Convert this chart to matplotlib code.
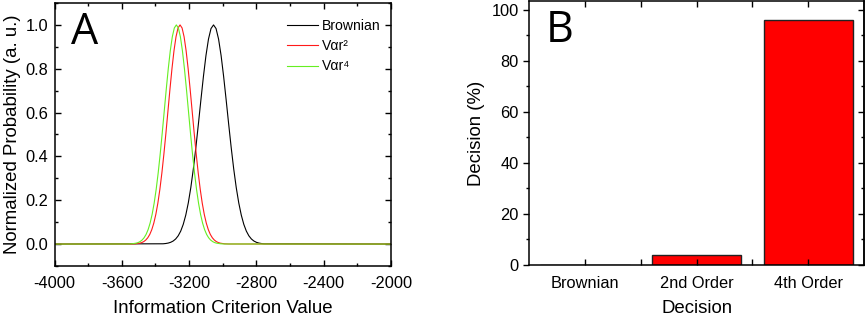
import matplotlib
matplotlib.use("Agg")
import matplotlib.pyplot as plt
from matplotlib.ticker import MultipleLocator, FixedLocator, FormatStrFormatter

plt.rcParams['font.family'] = ['Liberation Sans', 'DejaVu Sans']
plt.rcParams['axes.unicode_minus'] = False

# panel A: curves
brown_x = [-4000, -3355, -3340, -3325, -3310, -3295, -3280, -3265, -3250, -3235, -3220,
           -3205, -3190, -3175, -3160, -3145, -3130, -3115, -3100, -3085, -3070, -3055,
           -3040, -3025, -3010, -2995, -2980, -2965, -2950, -2935, -2920, -2905, -2890,
           -2875, -2860, -2845, -2830, -2815, -2800, -2785, -2770, -2755, -2000]
brown_y = [0, 0.0012, 0.0024, 0.0044, 0.0079, 0.0138, 0.0232, 0.0377, 0.0592, 0.0899, 0.1321,
           0.1877, 0.2579, 0.3428, 0.4405, 0.5475, 0.6582, 0.7651, 0.8602, 0.9353, 0.9834, 1.0,
           0.9834, 0.9353, 0.8602, 0.7651, 0.6582, 0.5475, 0.4405, 0.3428, 0.2579, 0.1877, 0.1321,
           0.0899, 0.0592, 0.0377, 0.0232, 0.0138, 0.0079, 0.0044, 0.0024, 0.0012, 0]

r2_x = [-4000, -3542, -3518, -3494, -3482, -3470, -3458, -3446, -3434, -3422, -3410, -3398,
        -3386, -3374, -3362, -3350, -3338, -3326, -3314, -3302, -3290, -3278, -3266, -3254,
        -3242, -3230, -3218, -3206, -3194, -3182, -3170, -3158, -3146, -3134, -3122, -3110,
        -3098, -3086, -3074, -3062, -3050, -3038, -3026, -3014, -2990, -2966, -2000]
r2_y = [0, 0.0003, 0.0012, 0.0039, 0.0066, 0.0111, 0.0181, 0.0286, 0.0439, 0.0657, 0.0956, 0.1353,
        0.1863, 0.2494, 0.3247, 0.4111, 0.5063, 0.6065, 0.7066, 0.8007, 0.8825, 0.9460, 0.9862, 1.0,
        0.9862, 0.9460, 0.8825, 0.8007, 0.7066, 0.6065, 0.5063, 0.4111, 0.3247, 0.2494, 0.1863, 0.1353,
        0.0956, 0.0657, 0.0439, 0.0286, 0.0181, 0.0111, 0.0066, 0.0039, 0.0012, 0.0003, 0]

r4_x = [-4000, -3564, -3540, -3516, -3504, -3492, -3480, -3468, -3456, -3444, -3432, -3420,
        -3408, -3396, -3384, -3372, -3360, -3348, -3336, -3324, -3312, -3300, -3288, -3276,
        -3264, -3252, -3240, -3228, -3216, -3204, -3192, -3180, -3168, -3156, -3144, -3132,
        -3120, -3108, -3096, -3084, -3072, -3060, -3048, -3036, -3012, -2988, -2000]
r4_y = [0, 0.0003, 0.0012, 0.0039, 0.0066, 0.0111, 0.0181, 0.0286, 0.0439, 0.0657, 0.0956, 0.1353,
        0.1863, 0.2494, 0.3247, 0.4111, 0.5063, 0.6065, 0.7066, 0.8007, 0.8825, 0.9460, 0.9862, 1.0,
        0.9862, 0.9460, 0.8825, 0.8007, 0.7066, 0.6065, 0.5063, 0.4111, 0.3247, 0.2494, 0.1863, 0.1353,
        0.0956, 0.0657, 0.0439, 0.0286, 0.0181, 0.0111, 0.0066, 0.0039, 0.0012, 0.0003, 0]

# panel B: decision percentages
decisions = ["Brownian", "2nd Order", "4th Order"]
decision_pct = [0, 4, 96]

TICK_FS = 11.8
LABEL_FS = 13.4

fig = plt.figure(figsize=(8.66, 3.17), dpi=100)

# ---- A ----
ax = fig.add_axes([0.063, 0.161, 0.3885, 0.8295])
ax.plot(brown_x, brown_y, color='black', lw=0.8, label='Brownian')
ax.plot(r2_x, r2_y, color='#ff1a1a', lw=0.8, label='V\u03b1r\u00b2')
ax.plot(r4_x, r4_y, color='#66ee22', lw=0.8, label='V\u03b1r\u2074')
ax.set_xlim(-4000, -2000)
ax.set_ylim(-0.1, 1.1)
ax.xaxis.set_major_locator(MultipleLocator(400))
ax.xaxis.set_minor_locator(MultipleLocator(200))
ax.yaxis.set_major_locator(MultipleLocator(0.2))
ax.yaxis.set_minor_locator(MultipleLocator(0.1))
ax.yaxis.set_major_formatter(FormatStrFormatter('%.1f'))
ax.tick_params(which='both', direction='in', top=True, right=True, labelsize=TICK_FS, width=1)
ax.tick_params(which='major', length=4.5)
ax.tick_params(which='minor', length=2.5)
ax.tick_params(axis='x', which='major', pad=7.5)
ax.tick_params(axis='y', which='major', pad=4.5)
for s in ax.spines.values():
    s.set_linewidth(1.1)
ax.set_xlabel('Information Criterion Value', fontsize=LABEL_FS, labelpad=6.5)
ax.set_ylabel('Normalized Probability (a. u.)', fontsize=LABEL_FS, labelpad=3)
ax.text(0.05, 0.97, 'A', transform=ax.transAxes, fontsize=31, va='top', ha='left',
        family='Open Sans')
ax.legend(loc='upper left', bbox_to_anchor=(0.69, 0.94), frameon=False,
          fontsize=10.1, handlelength=2.2, handletextpad=0.3, borderpad=0,
          labelspacing=0.45, borderaxespad=0)

# ---- B ----
bx = fig.add_axes([0.611, 0.164, 0.3867, 0.833])
pos = [1, 2, 3]
bx.bar(pos, decision_pct, width=0.8, color='#ff0000', edgecolor='#222222', lw=1)
bx.set_xlim(0.5, 3.5)
bx.set_ylim(0, 103.5)
bx.xaxis.set_major_locator(FixedLocator(pos))
bx.xaxis.set_minor_locator(FixedLocator([1.5, 2.5]))
bx.set_xticklabels(decisions)
bx.yaxis.set_major_locator(MultipleLocator(20))
bx.yaxis.set_minor_locator(MultipleLocator(10))
bx.tick_params(which='both', top=True, right=True, labelsize=TICK_FS, width=1)
bx.tick_params(axis='x', which='both', direction='in', length=4, pad=8)
bx.tick_params(axis='y', which='both', direction='out', left=True, right=False)
bx.tick_params(axis='y', which='major', length=4.5, pad=3)
bx.tick_params(axis='y', which='minor', length=2.5)
# right side ticks point inward
bx2 = bx.secondary_yaxis('right')
bx2.yaxis.set_major_locator(MultipleLocator(20))
bx2.yaxis.set_minor_locator(MultipleLocator(10))
bx2.tick_params(which='both', direction='in', labelright=False, width=1)
bx2.tick_params(which='major', length=4.5)
bx2.tick_params(which='minor', length=2.5)
bx2.spines['right'].set_linewidth(1.1)
for s in bx.spines.values():
    s.set_linewidth(1.1)
bx.set_xlabel('Decision', fontsize=LABEL_FS, labelpad=6.5)
bx.set_ylabel('Decision (%)', fontsize=LABEL_FS, labelpad=5)
bx.text(0.05, 0.97, 'B', transform=bx.transAxes, fontsize=31, va='top', ha='left',
        family='Open Sans')

fig.savefig('out.png', dpi=100)
